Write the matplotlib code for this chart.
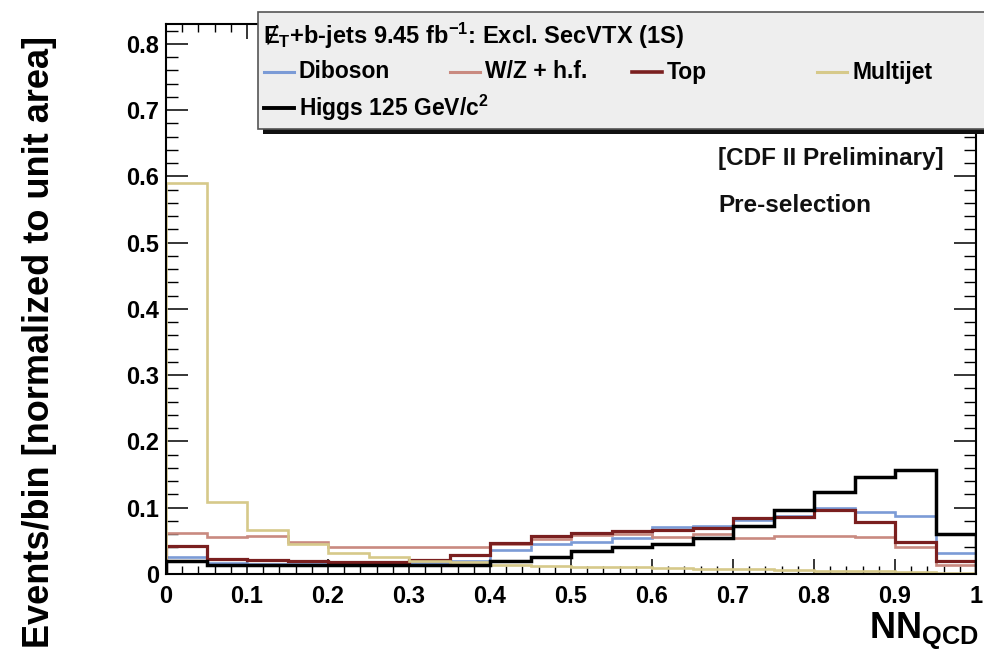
import numpy as np
import matplotlib
matplotlib.use("Agg")
import matplotlib.pyplot as plt
from matplotlib.lines import Line2D
from matplotlib.patches import Rectangle
from matplotlib.ticker import MultipleLocator

plt.rcParams['font.family'] = ['Liberation Sans', 'DejaVu Sans']
plt.rcParams['font.weight'] = 'bold'
plt.rcParams['mathtext.fontset'] = 'custom'
plt.rcParams['mathtext.rm'] = 'Liberation Sans:bold'
plt.rcParams['mathtext.bf'] = 'Liberation Sans:bold'
plt.rcParams['mathtext.it'] = 'Liberation Sans:bold'

# ---- data (20 bins of NN_QCD, 0..1) ----
bin_edges = np.linspace(0, 1, 21)
diboson = [0.025, 0.016, 0.015, 0.015, 0.015, 0.015, 0.016, 0.020, 0.036, 0.046,
           0.049, 0.054, 0.071, 0.072, 0.082, 0.088, 0.099, 0.093, 0.088, 0.031]
wz_hf = [0.062, 0.056, 0.058, 0.049, 0.041, 0.041, 0.041, 0.041, 0.045, 0.053,
         0.059, 0.061, 0.056, 0.060, 0.054, 0.057, 0.057, 0.056, 0.041, 0.014]
top = [0.042, 0.022, 0.021, 0.019, 0.018, 0.018, 0.021, 0.029, 0.047, 0.057,
       0.062, 0.065, 0.066, 0.069, 0.084, 0.086, 0.097, 0.078, 0.049, 0.019]
multijet = [0.590, 0.108, 0.066, 0.046, 0.031, 0.026, 0.020, 0.018, 0.014, 0.012,
            0.011, 0.010, 0.009, 0.008, 0.007, 0.006, 0.005, 0.004, 0.003, 0.002]
higgs = [0.019, 0.014, 0.013, 0.013, 0.013, 0.013, 0.013, 0.014, 0.019, 0.026,
         0.034, 0.041, 0.046, 0.055, 0.073, 0.097, 0.124, 0.147, 0.157, 0.061]

series_names = ['Diboson', 'W/Z + h.f.', 'Top', 'Multijet', r'Higgs 125 GeV/c$^{\mathrm{2}}$']
series_values = [diboson, wz_hf, top, multijet, higgs]
series_colors = ['#7b9bd6', '#c98a80', '#7a1f1f', '#d6c98a', '#000000']
series_lw = [1.9, 1.9, 2.3, 1.9, 2.5]

x_ticks = [0, 0.1, 0.2, 0.3, 0.4, 0.5, 0.6, 0.7, 0.8, 0.9, 1.0]
x_ticklabels = ['0', '0.1', '0.2', '0.3', '0.4', '0.5', '0.6', '0.7', '0.8', '0.9', '1']
y_ticks = [0, 0.1, 0.2, 0.3, 0.4, 0.5, 0.6, 0.7, 0.8]
y_ticklabels = ['0', '0.1', '0.2', '0.3', '0.4', '0.5', '0.6', '0.7', '0.8']

W, H = 984, 666
fig = plt.figure(figsize=(W / 100, H / 100), dpi=100)

def fx(x):
    return x / W

def fy(y):
    return 1 - y / H

L, R, T, B = 166, 976, 24, 574
ax = fig.add_axes([fx(L), fy(B), (R - L) / W, (B - T) / H])

order = [1, 0, 2, 3, 4]
for i in order:
    ax.stairs(series_values[i], bin_edges, color=series_colors[i],
              linewidth=series_lw[i], baseline=0, zorder=2 + i * 0.1)

ax.set_xlim(0, 1)
ax.set_ylim(0, 0.83)
ax.set_xticks(x_ticks)
ax.set_xticklabels(x_ticklabels)
ax.set_yticks(y_ticks)
ax.set_yticklabels(y_ticklabels)
ax.xaxis.set_minor_locator(MultipleLocator(0.02))
ax.yaxis.set_minor_locator(MultipleLocator(0.02))
ax.tick_params(axis='x', which='major', direction='in', length=11, width=1.1,
               top=True, bottom=True, labelsize=17, pad=8)
ax.tick_params(axis='x', which='minor', direction='in', length=5.5, width=1.0,
               top=True, bottom=True)
ax.tick_params(axis='y', which='major', direction='in', length=16, width=1.1,
               left=True, right=True, labelsize=17, pad=5)
ax.tick_params(axis='y', which='minor', direction='in', length=8.5, width=1.0,
               left=True, right=True)
for lab in ax.get_xticklabels() + ax.get_yticklabels():
    lab.set_fontweight('bold')
for sp in ax.spines.values():
    sp.set_linewidth(1.5)

# axis titles
fig.text(fx(40), fy(342), 'Events/bin [normalized to unit area]', rotation=90,
         ha='center', va='center', fontsize=26, fontweight='bold')
fig.text(fx(979), fy(631), r'NN$_{\mathrm{QCD}}$', ha='right', va='center',
         fontsize=26, fontweight='bold')

# annotations
fig.text(fx(718), fy(158), '[CDF II Preliminary]', ha='left', va='center',
         fontsize=17.5, fontweight='bold', color='#111111')
fig.text(fx(718), fy(206), 'Pre-selection', ha='left', va='center',
         fontsize=17.5, fontweight='bold', color='#111111')

# legend box (ROOT style with shadow)
shadow = Rectangle((fx(263), fy(134)), fx(1000) - fx(263), fy(17) - fy(134),
                   transform=fig.transFigure, facecolor='#111111', edgecolor='none',
                   zorder=5, clip_on=False)
box = Rectangle((fx(258), fy(129)), fx(1000) - fx(258), fy(12) - fy(129),
                transform=fig.transFigure, facecolor='#eeeeee', edgecolor='#555555',
                linewidth=1.2, zorder=6, clip_on=False)
fig.add_artist(shadow)
fig.add_artist(box)

fig.text(fx(263), fy(36), r'Ɇ$_{\mathrm{T}}$+b-jets 9.45 fb$^{\mathrm{-1}}$: Excl. SecVTX (1S)',
         ha='left', va='center', fontsize=17, fontweight='bold', zorder=7)

entry_pos = [(264, 72), (450, 72), (632, 72), (817, 72), (264, 108)]
for (px, py), name, col, lw in zip(entry_pos, series_names, series_colors, series_lw):
    fig.add_artist(Line2D([fx(px), fx(px + 30)], [fy(py), fy(py)],
                          transform=fig.transFigure, color=col, linewidth=lw + 0.3,
                          zorder=7))
    fig.text(fx(px + 35), fy(py), name, ha='left', va='center', fontsize=16.5,
             fontweight='bold', zorder=7)

fig.savefig('out.png', dpi=100)
